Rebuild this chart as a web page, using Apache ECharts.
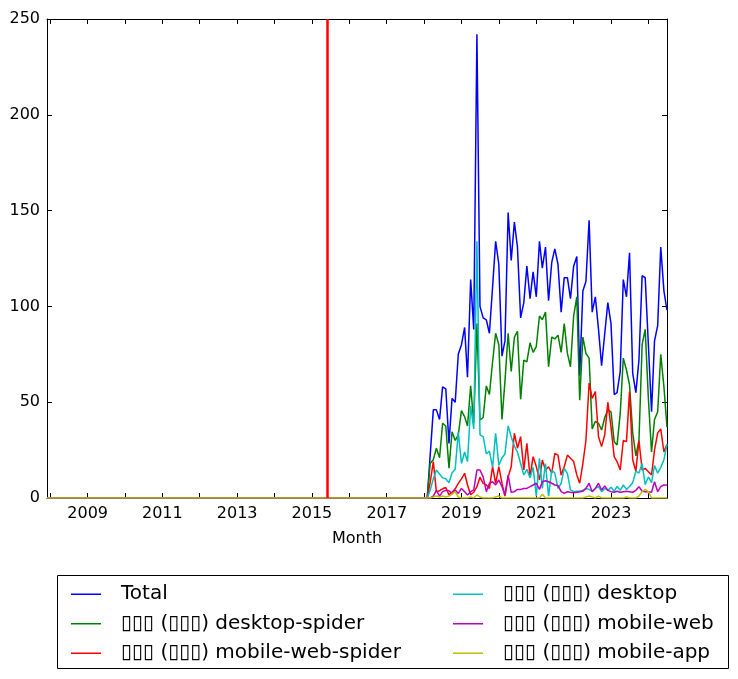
<!DOCTYPE html>
<html>
<head>
<meta charset="utf-8">
<script src="https://cdn.jsdelivr.net/npm/echarts@6/dist/echarts.min.js"></script>
<style>
  html, body { margin: 0; padding: 0; background: #fff; }
  #chart { width: 738px; height: 679px; }
</style>
</head>
<body>
<div id="chart"></div>
<script>
// ---------- data (monthly, first of month) ----------
// zero period start, then 2018-01 .. 2024-07
const firstMonth = '2007-12';
const startYear = 2018, startMon = 1, endYear = 2024, endMon = 7;

const seriesNames = [
  'Total',
  '▯▯▯ (▯▯▯) desktop-spider',
  '▯▯▯ (▯▯▯) mobile-web-spider',
  '▯▯▯ (▯▯▯) desktop',
  '▯▯▯ (▯▯▯) mobile-web',
  '▯▯▯ (▯▯▯) mobile-app'
];
const seriesColors = ['#0000ff', '#008000', '#ff0000', '#00bfbf', '#bf00bf', '#bfbf00'];

// values: [2007-12, 2018-01, 2018-02 ... 2024-07]
const total = [0, 0,
  0, 22, 46, 46, 41, 58, 57, 28.5, 52, 50, 75,
  80, 89, 63, 114, 88, 242, 100, 94, 93, 86, 110, 134,
  122, 74, 82, 149, 124, 144, 131, 94, 102, 121, 104, 118,
  105, 134, 120, 131, 103, 123, 130, 122, 97, 115, 115, 104,
  121, 126, 64, 108, 113, 145, 97, 105, 88, 69, 86, 102,
  91, 54, 55, 66, 114, 105, 128, 65, 55, 72, 116, 115,
  80, 45, 82, 90, 131, 108, 98];
const desktopSpider = [0, 0,
  0, 18, 20, 26, 21, 39, 37.6, 15.5, 34.6, 30, 33,
  45.6, 42.4, 37.6, 58.5, 39, 91, 40.7, 42, 58.5, 54, 71, 86,
  80, 41, 61, 86, 66, 84, 87, 51.5, 72, 71, 81, 76,
  79, 95, 93, 97, 68.5, 84, 83, 85, 76, 91, 75.5, 68.5,
  95, 105, 51, 84, 75.5, 73, 36, 40, 39, 35.5, 42, 46,
  45, 29.4, 27.7, 44, 73, 66.8, 59, 34, 22, 30, 80, 88,
  52, 24, 41, 45, 75, 58, 37];
const mobileWebSpider = [0, 0,
  0, 8, 19, 3.3, 3.8, 4.8, 5.5, 1.7, 3, 4.8, 7.6,
  10, 12.9, 6.8, 1.7, 3, 5.9, 10.8, 7.6, 6.8, 5, 16.4, 7.6,
  16.4, 7.6, 1, 11, 16.3, 33.8, 26, 32, 14.6, 28.5, 11, 21.6,
  16.4, 9.4, 19.8, 14.6, 16.3, 12.9, 23.3, 22.4, 12, 16.3, 22.4, 20.7,
  19, 12, 7.7, 18, 30, 60, 52, 55.5, 32, 26.8, 33, 50,
  37, 21.6, 19, 14.6, 30, 29.4, 55.5, 20, 14, 30, 14.6, 15.5,
  13.7, 12, 25, 34, 36, 24, 28];
const desktop = [0, 0,
  0, 4, 10, 14.6, 12.5, 10.5, 10, 8, 13, 15, 34.6,
  18, 24, 19, 48, 36, 134, 33, 32, 23, 24.5, 16, 33.8,
  17, 21, 23, 37.6, 32, 27, 24, 18, 12, 15, 10.5, 16,
  1, 20.7, 5, 18, 1, 14.6, 13, 5, 7.7, 15.5, 12.9, 4.2,
  3.3, 3.5, 3.5, 4, 5, 4.5, 3.5, 5, 6, 3.3, 5, 4,
  5.6, 3.5, 6, 4, 6.8, 4.5, 6, 8, 14, 13, 18, 7,
  11, 8, 17, 13, 16, 20, 28];
const mobileWeb = [0, 0,
  0, 0, 1, 4, 1, 3.3, 4, 3.8, 2.4, 4.2, 2.4,
  5, 3.3, 1.6, 3.3, 4.2, 14.6, 14.6, 11, 3.3, 7.7, 8.5, 6.8,
  9.4, 5.9, 1.6, 12, 3, 3.3, 4.5, 4.5, 5, 5, 5.9, 6.8,
  7.7, 4.5, 8.5, 9, 8.5, 7.7, 6.8, 6.5, 3.3, 2.4, 3.3, 3,
  2.8, 3, 3.3, 3.5, 5, 7.7, 3.3, 5, 7.7, 4.2, 6.3, 4,
  3.3, 3, 3.5, 3, 3.3, 3.5, 3.3, 3, 4, 5.9, 3.5, 3.3,
  3.3, 3, 8.5, 3.3, 5.9, 6.8, 6.8];
const mobileApp = [0, 0,
  0, 0, 0.5, 1, 0.5, 1, 0.5, 1, 2, 3.3, 0.5,
  0, 0, 0, 0.5, 0, 1.6, 0.5, 0, 0, 0, 0, 0.5,
  1, 0, 0, 0, 0, 0, 0, 0, 0, 0, 0, 0,
  0, 0, 2, 0, 0, 0, 0, 0, 0, 0, 0, 0,
  0, 0, 0, 0, 0.5, 1, 0.5, 0, 1, 0, 0, 0,
  0, 0, 0, 0, 0, 0.5, 0, 0, 0, 1, 3.3, 4.5,
  3.3, 0, 0, 0, 0, 0, 0];

const seriesValues = [total, desktopSpider, mobileWebSpider, desktop, mobileWeb, mobileApp];

const markerMonth = '2015-06';          // red vertical line
const axisStart = '2007-12', axisEnd = '2024-07';
const tickYears = [2008, 2009, 2010, 2011, 2012, 2013, 2014, 2015, 2016, 2017, 2018, 2019, 2020, 2021, 2022, 2023, 2024];
const labelYears = [2009, 2011, 2013, 2015, 2017, 2019, 2021, 2023];

// ---------- build ----------
function ts(s) { const p = s.split('-'); return Date.UTC(+p[0], +p[1] - 1, 1); }
const months = [firstMonth];
for (let y = startYear, m = startMon; y < endYear || (y === endYear && m <= endMon); ) {
  months.push(y + '-' + String(m).padStart(2, '0'));
  m++; if (m > 12) { m = 1; y++; }
}
const tickVals = tickYears.map(y => Date.UTC(y, 0, 1));
const labelVals = labelYears.map(y => Date.UTC(y, 0, 1));

const FONT = 'DejaVu Sans';
const xMin = ts(axisStart), xMax = ts(axisEnd);

const series = seriesNames.map((name, i) => ({
  name: name,
  type: 'line',
  xAxisIndex: 0, yAxisIndex: 0,
  data: months.map((m, k) => [ts(m), seriesValues[i][k]]),
  showSymbol: false, symbol: 'none',
  lineStyle: { width: 1.5, color: seriesColors[i] },
  itemStyle: { color: seriesColors[i] },
  emphasis: { disabled: true },
  animation: false,
  markLine: i === 0 ? {
    silent: true, animation: false,
    symbol: ['none', 'none'],
    label: { show: false },
    lineStyle: { color: '#ff0000', width: 2.5, type: 'solid' },
    emphasis: { disabled: true },
    data: [{ xAxis: ts(markerMonth) }]
  } : undefined
}));

const legendCommon = {
  orient: 'vertical',
  top: 579.5,
  padding: 0,
  itemGap: 0,
  itemWidth: 30,
  itemHeight: 1.5,
  icon: 'rect',
  selectedMode: false,
  textStyle: { fontFamily: FONT, fontSize: 20, color: '#000', lineHeight: 29.5, padding: [0, 0, 0, 15] }
};

const xAxisBase = {
  type: 'value', min: xMin, max: xMax, scale: true,
  axisLine: { show: true, onZero: false, lineStyle: { color: '#000', width: 1 } },
  axisTick: { show: true, inside: true, length: 5, lineStyle: { color: '#000', width: 1 }, customValues: tickVals },
  splitLine: { show: false }
};

const option = {
  backgroundColor: '#fff',
  animation: false,
  grid: { left: 47, right: 71, top: 19, bottom: 181, containLabel: false },
  xAxis: [Object.assign({}, xAxisBase, {
    position: 'bottom',
    axisLabel: {
      customValues: labelVals, margin: 8,
      fontFamily: FONT, fontSize: 16, color: '#000',
      formatter: v => String(new Date(v).getUTCFullYear())
    },
    name: 'Month', nameLocation: 'middle', nameGap: 33,
    nameTextStyle: { fontFamily: FONT, fontSize: 16, color: '#000' }
  }), Object.assign({}, xAxisBase, {
    position: 'top',
    axisLabel: { show: false }
  })],
  yAxis: [{
    type: 'value', min: 0, max: 250, interval: 50, position: 'left',
    axisLine: { show: true, onZero: false, lineStyle: { color: '#000', width: 1 } },
    axisTick: { show: true, inside: true, length: 5, lineStyle: { color: '#000', width: 1 } },
    axisLabel: { margin: 7, fontFamily: FONT, fontSize: 16, color: '#000' },
    splitLine: { show: false }
  }, {
    type: 'value', min: 0, max: 250, interval: 50, position: 'right',
    axisLine: { show: true, onZero: false, lineStyle: { color: '#000', width: 1 } },
    axisTick: { show: true, inside: true, length: 5, lineStyle: { color: '#000', width: 1 } },
    axisLabel: { show: false },
    splitLine: { show: false }
  }],
  legend: [
    Object.assign({}, legendCommon, { left: 71, data: seriesNames.slice(0, 3) }),
    Object.assign({}, legendCommon, { left: 453, data: seriesNames.slice(3, 6) })
  ],
  graphic: [{
    type: 'rect', silent: true, z: 0,
    shape: { x: 57.5, y: 575.5, width: 671, height: 93 },
    style: { fill: 'none', stroke: '#000', lineWidth: 1 }
  }],
  series: series
};

const chart = echarts.init(document.getElementById('chart'), null, { renderer: 'canvas' });
chart.setOption(option);
</script>
</body>
</html>
